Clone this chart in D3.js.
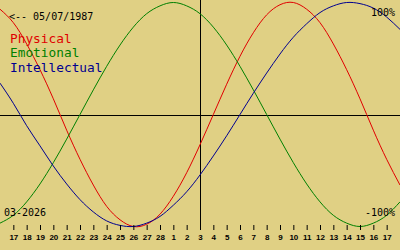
<!DOCTYPE html>
<html>
<head>
<meta charset="utf-8">
<script src="https://cdn.jsdelivr.net/npm/d3@7"></script>
<style>
    html, body { margin: 0; padding: 0; background: #e0d084; }
    svg { display: block; }
    .mono { font-family: "DejaVu Sans Mono", "Liberation Mono", monospace; }
    .tick text { font-family: "Liberation Sans", Arial, sans-serif; font-weight: bold; font-size: 8px; fill: #000; }
</style>
</head>
<body>
<div id="chart"></div>
<script>

// texts
const birthLabel = "<-- 05/07/1987";
const monthLabel = "03-2026";
const seriesNames = ["Physical", "Emotional", "Intellectual"];

// day labels under the ticks (17 Feb .. 17 Mar)
const tickLabels = ["17","18","19","20","21","22","23","24","25","26","27","28",
    "1","2","3","4","5","6","7","8","9","10","11","12","13","14","15","16","17"];

// values per day, 16 Feb .. 18 Mar
const physical = [0.94,0.82,0.63,0.40,0.14,-0.14,-0.40,-0.63,-0.82,-0.94,-1.00,-0.98,-0.89,-0.73,-0.52,-0.27,
    0.00,0.27,0.52,0.73,0.89,0.98,1.00,0.94,0.82,0.63,0.40,0.14,-0.14,-0.40,-0.63];
const emotional = [-0.97,-0.90,-0.78,-0.62,-0.43,-0.22,0.00,0.22,0.43,0.62,0.78,0.90,0.97,1.00,0.97,0.90,
    0.78,0.62,0.43,0.22,0.00,-0.22,-0.43,-0.62,-0.78,-0.90,-0.97,-1.00,-0.97,-0.90,-0.78];
const intellectual = [0.28,0.10,-0.10,-0.28,-0.46,-0.62,-0.76,-0.87,-0.95,-0.99,-1.00,-0.97,-0.91,-0.81,-0.69,-0.54,
    -0.37,-0.19,0.00,0.19,0.37,0.54,0.69,0.81,0.91,0.97,1.00,0.99,0.95,0.87,0.76];

const today = 15; // 3 Mar

const width = 400,
    height = 250,
    colors = ["#e00000", "#008000", "#000090"];

const svg = d3.select("#chart").append("svg")
    .attr("width", width)
    .attr("height", height);

svg.append("rect")
    .attr("width", width)
    .attr("height", height)
    .attr("fill", "#e0d084");

const x = d3.scaleLinear().domain([0, 30]).range([0, width]);
const y = d3.scaleLinear().domain([-1, 1]).range([226.5, 2.5]);

// zero line and today line
svg.append("line")
    .attr("x1", 0).attr("x2", width)
    .attr("y1", Math.round(y(0)) + 0.5).attr("y2", Math.round(y(0)) + 0.5)
    .attr("stroke", "#000");

svg.append("line")
    .attr("x1", x(today) + 0.5).attr("x2", x(today) + 0.5)
    .attr("y1", 0).attr("y2", 230)
    .attr("stroke", "#000");

// curves
const line = d3.line()
    .x(function(d, i) { return x(i); })
    .y(function(d) { return y(d); })
    .curve(d3.curveNatural);

[physical, emotional, intellectual].forEach(function(s, k) {
    svg.append("path")
        .datum(s)
        .attr("d", line)
        .attr("fill", "none")
        .attr("stroke", colors[k])
        .attr("stroke-width", 1);
});

// day ticks
const axis = d3.axisBottom(x)
    .tickValues(d3.range(1, 30))
    .tickFormat(function(i) { return tickLabels[i - 1]; })
    .tickSize(5)
    .tickPadding(4);

const gx = svg.append("g")
    .attr("transform", "translate(0,225)")
    .call(axis);
gx.select(".domain").remove();
gx.selectAll(".tick line").attr("stroke", "#000");

// labels
svg.append("text")
    .attr("class", "mono")
    .attr("x", 9).attr("y", 20)
    .style("font-size", "10px")
    .text(birthLabel);

seriesNames.forEach(function(n, k) {
    svg.append("text")
        .attr("class", "mono")
        .attr("x", 10).attr("y", 42.5 + k * 14.7)
        .style("font-size", "12.8px")
        .attr("fill", colors[k])
        .text(n);
});

svg.append("text")
    .attr("class", "mono")
    .attr("x", 4).attr("y", 216)
    .style("font-size", "10px")
    .text(monthLabel);

svg.append("text")
    .attr("class", "mono")
    .attr("x", 395).attr("y", 16)
    .attr("text-anchor", "end")
    .style("font-size", "10px")
    .text("100%");

svg.append("text")
    .attr("class", "mono")
    .attr("x", 395).attr("y", 216)
    .attr("text-anchor", "end")
    .style("font-size", "10px")
    .text("-100%");

</script>
</body>
</html>
